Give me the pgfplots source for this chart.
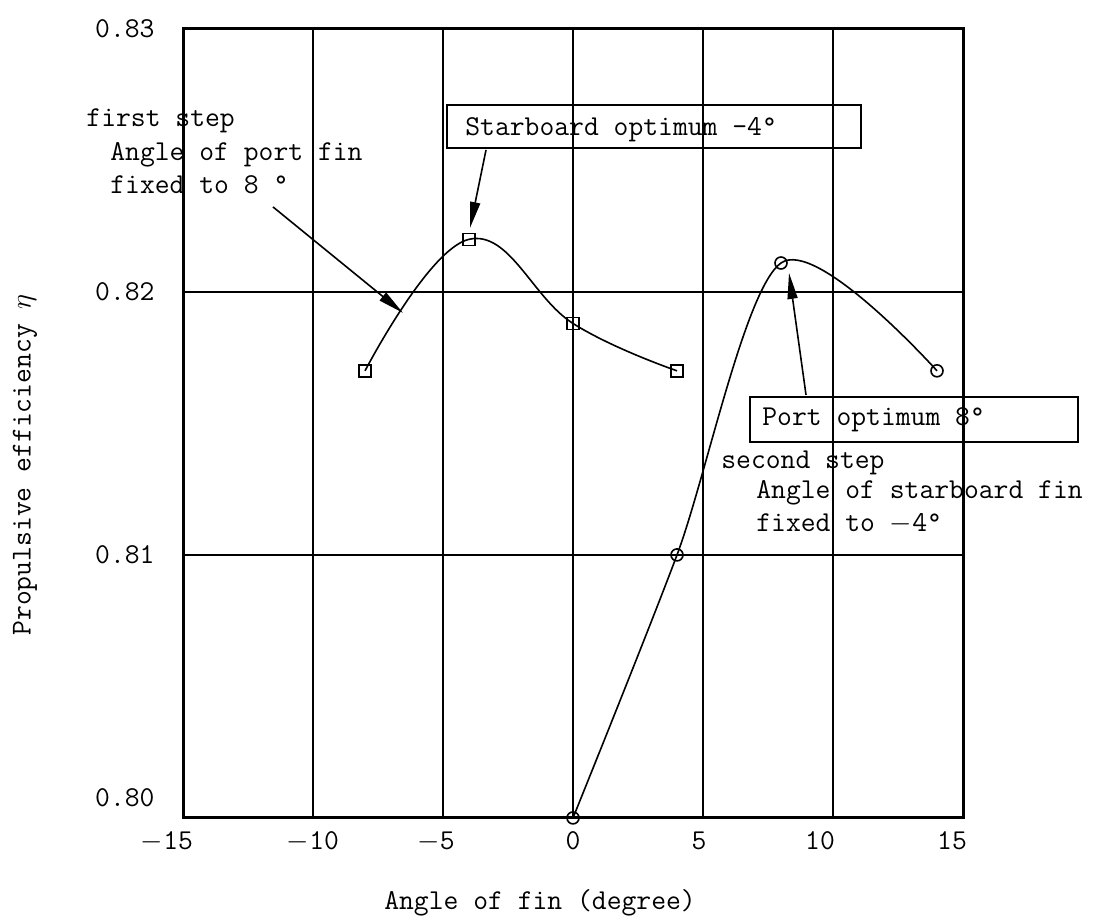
\documentclass[border=0pt]{standalone}
\usepackage{pgfplots}
\pgfplotsset{compat=1.18}
\usetikzlibrary{arrows.meta}
\newcommand\tfont{\fontsize{14.4}{17}\selectfont\ttfamily}
\begin{document}
\begin{tikzpicture}
\begin{axis}[
  scale only axis, width=390pt, height=394.5pt,
  xmin=-15, xmax=15, ymin=0.80, ymax=0.83,
  xtick={-15,-10,-5,0,5,10,15},
  xticklabels={$-$15\hspace*{16pt},$-$10,$-$5\hspace*{7pt},0,5\hspace*{4pt},10\hspace*{13pt},15\hspace*{11pt}},
  ytick={0.80,0.81,0.82,0.83},
  yticklabels={\raisebox{20pt}{0.80},0.81,0.82,0.83},
  grid=major, major grid style={black, line width=1pt},
  major tick length=0pt,
  axis line style={line width=1.5pt},
  tick label style={font=\tfont},
  xticklabel style={yshift=-3.5pt},
  yticklabel style={xshift=-10.7pt},
  clip=false,
]
\path (axis cs:-22.04,0.79620) rectangle (axis cs:20.154,0.83110);

\addplot[black, line width=0.8pt, smooth, tension=0.7, mark=square, mark size=3pt, mark options={solid, fill=white, line width=0.8pt}]
  coordinates {(-8,0.8170) (-4,0.8220) (0,0.8188) (4,0.8170)};
\addplot[black, line width=0.8pt, smooth, mark=o, mark size=3pt, mark options={solid, fill=white, line width=0.8pt}]
  coordinates {(0,0.8000) (4,0.8100) (8,0.8211) (14,0.8170)};

% annotations
\node[anchor=base west, inner sep=0, font=\tfont] at (axis cs:-18.73,0.826274) {first step};
\node[anchor=base west, inner sep=0, font=\tfont] at (axis cs:-17.81,0.824981) {Angle of port fin};
\node[anchor=base west, inner sep=0, font=\tfont] at (axis cs:-17.81,0.823726) {fixed to 8 °};
\draw[line width=0.8pt, -{Triangle[length=13pt,width=5pt]}] (axis cs:-11.54,0.823232) -- (axis cs:-6.54,0.819202);

\draw[line width=1pt] (axis cs:-4.846,0.825475) rectangle (axis cs:11.077,0.827110);
\node[anchor=base west, inner sep=0, font=\tfont] at (axis cs:-4.154,0.825932) {Starboard optimum -4°};
\draw[line width=0.8pt, -{Triangle[length=13pt,width=5pt]}] (axis cs:-3.346,0.825399) -- (axis cs:-3.962,0.822433);

\draw[line width=1pt] (axis cs:6.808,0.814297) rectangle (axis cs:19.423,0.816008);
\node[anchor=base west, inner sep=0, font=\tfont] at (axis cs:7.269,0.814905) {Port optimum 8°};
\draw[line width=0.8pt, -{Triangle[length=13pt,width=5pt]}] (axis cs:8.962,0.816084) -- (axis cs:8.308,0.820722);

\node[anchor=base west, inner sep=0, font=\tfont] at (axis cs:5.692,0.813270) {second step};
\node[anchor=base west, inner sep=0, font=\tfont] at (axis cs:7.038,0.812129) {Angle of starboard fin};
\node[anchor=base west, inner sep=0, font=\tfont] at (axis cs:7.038,0.810875) {fixed to $-$4°};

% axis labels
\node[font=\tfont] at (axis cs:-1.269,0.796768) {Angle of fin (degree)};
\node[font=\tfont, rotate=90] at (axis cs:-21.077,0.813422) {Propulsive efficiency $\eta$};
\end{axis}
\end{tikzpicture}
\end{document}
